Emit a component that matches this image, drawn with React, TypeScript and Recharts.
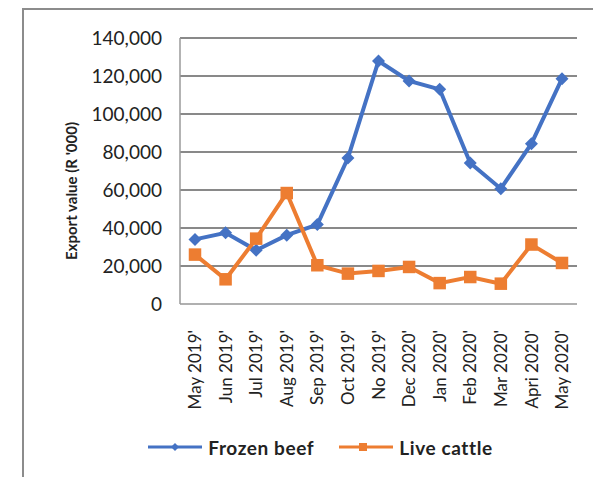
import {
    LineChart,
    Line,
    XAxis,
    YAxis,
    CartesianGrid,
    Legend,
} from "recharts";

// chart data
const months = [
    "May 2019'", "Jun 2019'", "Jul 2019'", "Aug 2019'", "Sep 2019'", "Oct 2019'", "No 2019'",
    "Dec 2020'", "Jan 2020'", "Feb 2020'", "Mar 2020'", "Apri 2020'", "May 2020'",
];
const frozenBeef = [34000, 37500, 28300, 36200, 41800, 76800, 127900, 117400, 113000, 74200, 60700, 84400, 118600];
const liveCattle = [26000, 13000, 34400, 58400, 20400, 16000, 17400, 19500, 11000, 14200, 10700, 31300, 21600];
const yTicks = [0, 20000, 40000, 60000, 80000, 100000, 120000, 140000];

const rows = months.map((m, i) => ({
    month: m,
    frozen: frozenBeef[i],
    live: liveCattle[i],
}));

const BLUE = "#4472C4";
const ORANGE = "#ED7D31";
const FONT = "Lato, 'Open Sans', sans-serif";

function Diamond(props: any) {
    const { cx, cy } = props;
    if (cx == null || cy == null) return null;
    const r = 6.5;
    return <polygon points={`${cx},${cy - r} ${cx + r},${cy} ${cx},${cy + r} ${cx - r},${cy}`} fill={BLUE} />;
}

function Square(props: any) {
    const { cx, cy } = props;
    if (cx == null || cy == null) return null;
    const s = 12.5;
    return <rect x={cx - s / 2} y={cy - s / 2} width={s} height={s} fill={ORANGE} />;
}

function MonthTick(props: any) {
    const { x, y, payload } = props;
    return (
        <text
            transform={`translate(${x},${y + 18}) rotate(-90)`}
            textAnchor="end"
            dy="0.36em"
            fontSize={17}
            fontFamily={FONT}
            fill="#222"
        >
            {payload.value}
        </text>
    );
}

function LegendBox() {
    return (
        <div style={{ display: "flex", justifyContent: "center", alignItems: "center", height: 30, paddingLeft: 56, fontFamily: FONT, fontWeight: 700, fontSize: 19, letterSpacing: 0.6, color: "#222" }}>
            <svg width={54} height={16} style={{ marginRight: 6 }}>
                <line x1={0} y1={8} x2={54} y2={8} stroke={BLUE} strokeWidth={3} />
                <polygon points="27,4 31,8 27,12 23,8" fill={BLUE} />
            </svg>
            <span style={{ marginRight: 25 }}>Frozen beef</span>
            <svg width={54} height={16} style={{ marginRight: 6 }}>
                <line x1={0} y1={8} x2={54} y2={8} stroke={ORANGE} strokeWidth={3} />
                <rect x={20} y={4} width={8} height={8} fill={ORANGE} />
            </svg>
            <span>Live cattle</span>
        </div>
    );
}

export default function App() {
    return (
        <div style={{ position: "relative", width: 593, height: 469, overflow: "hidden", background: "#fff" }}>
            <div style={{ position: "absolute", left: 14, top: 0, width: 700, height: 600, borderLeft: "2px solid #8c8c8c", borderTop: "2px solid #8c8c8c" }} />
            <div style={{ position: "absolute", left: 0, top: 0 }}>
                <LineChart
                    width={593}
                    height={469}
                    data={rows}
                    margin={{ top: 30, right: 24, left: 0, bottom: 15 }}
                >
                    <CartesianGrid vertical={false} stroke="#898989" strokeWidth={2} />
                    <XAxis
                        dataKey="month"
                        interval={0}
                        height={128}
                        padding={{ left: 15, right: 15 }}
                        tick={<MonthTick />}
                        tickLine={false}
                        axisLine={{ stroke: "#b0b0b0", strokeWidth: 2 }}
                    />
                    <YAxis
                        width={172}
                        domain={[0, 140000]}
                        ticks={yTicks}
                        interval={0}
                        tickFormatter={(v: number) => v.toLocaleString("en-US")}
                        tick={{ fontSize: 19, fontFamily: FONT, fill: "#222" }}
                        tickLine={false}
                        tickSize={10}
                        tickMargin={8}
                        axisLine={{ stroke: "#9a9a9a", strokeWidth: 1.5 }}
                        label={{
                            content: (p: any) => {
                                const vb = p.viewBox;
                                const cx = vb.x + 64;
                                const cy = vb.y + vb.height / 2 + 20;
                                return (
                                    <text
                                        x={cx}
                                        y={cy}
                                        transform={`rotate(-90, ${cx}, ${cy})`}
                                        textAnchor="middle"
                                        dy="0.35em"
                                        fontSize={15}
                                        fontWeight={700}
                                        fontFamily={FONT}
                                        fill="#222"
                                    >
                                        Export value (R '000)
                                    </text>
                                );
                            },
                        }}
                    />
                    <Legend verticalAlign="bottom" content={<LegendBox />} />
                    <Line
                        type="linear"
                        dataKey="frozen"
                        name="Frozen beef"
                        stroke={BLUE}
                        strokeWidth={4}
                        dot={<Diamond />}
                        activeDot={false}
                        isAnimationActive={false}
                    />
                    <Line
                        type="linear"
                        dataKey="live"
                        name="Live cattle"
                        stroke={ORANGE}
                        strokeWidth={4}
                        dot={<Square />}
                        activeDot={false}
                        isAnimationActive={false}
                    />
                </LineChart>
            </div>
        </div>
    );
}
